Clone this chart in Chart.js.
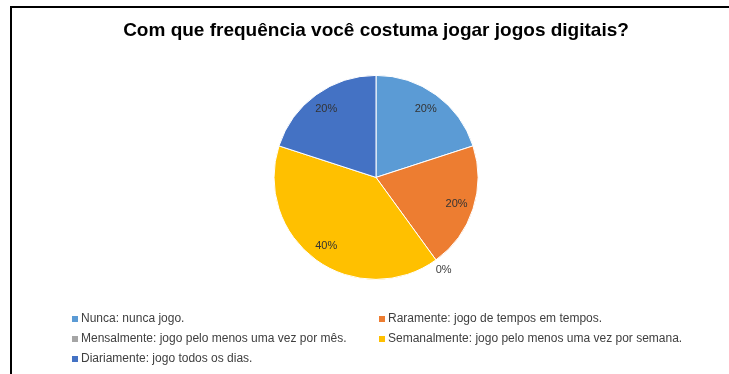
<!DOCTYPE html>
<html>
<head>
<meta charset="utf-8">
<script src="https://cdn.jsdelivr.net/npm/chart.js@4/dist/chart.umd.min.js"></script>
<style>
  html, body { margin: 0; padding: 0; background: #fff; }
  #wrap { width: 729px; height: 374px; }
</style>
</head>
<body>
<div id="wrap"><canvas id="graficoPizza" width="729" height="374"></canvas></div>
<script>
const titulo = 'Com que frequência você costuma jogar jogos digitais?';
const categorias = [
    'Nunca: nunca jogo.',
    'Raramente: jogo de tempos em tempos.',
    'Mensalmente: jogo pelo menos uma vez por mês.',
    'Semanalmente: jogo pelo menos uma vez por semana.',
    'Diariamente: jogo todos os dias.'
];
const percentuais = [20, 20, 0, 40, 20];
const cores = ['#5B9BD5', '#ED7D31', '#A5A5A5', '#FFC000', '#4472C4'];

// moldura (linha de cima e da esquerda do print)
const moldura = {
    id: 'moldura',
    beforeDraw(chart) {
        const ctx = chart.ctx;
        ctx.save();
        ctx.strokeStyle = '#000';
        ctx.lineWidth = 2;
        ctx.beginPath();
        ctx.moveTo(11, 374);
        ctx.lineTo(11, 7);
        ctx.lineTo(729, 7);
        ctx.stroke();
        ctx.restore();
    }
};

// rótulos de porcentagem
const rotulos = {
    id: 'rotulos',
    afterDatasetsDraw(chart) {
        const ctx = chart.ctx;
        const valores = chart.data.datasets[0].data;
        ctx.save();
        ctx.font = '11px "Liberation Sans", Arial, sans-serif';
        ctx.textAlign = 'center';
        ctx.textBaseline = 'middle';
        chart.getDatasetMeta(0).data.forEach((arc, i) => {
            const p = arc.getProps(['x', 'y', 'startAngle', 'endAngle', 'outerRadius'], true);
            const meio = (p.startAngle + p.endAngle) / 2;
            const r = valores[i] === 0 ? p.outerRadius + 13 : p.outerRadius * 0.83;
            ctx.fillStyle = valores[i] === 0 ? '#404040' : '#333';
            ctx.fillText(valores[i] + '%', p.x + Math.cos(meio) * r, p.y + Math.sin(meio) * r);
        });
        ctx.restore();
    }
};

// legenda em duas colunas
const legenda = {
    id: 'legenda',
    afterDraw(chart) {
        const ctx = chart.ctx;
        const colX = [72, 379];
        const linhaY = [319, 339, 359];
        ctx.save();
        ctx.font = '12px "Liberation Sans", Arial, sans-serif';
        ctx.textBaseline = 'middle';
        chart.data.labels.forEach((nome, i) => {
            const x = colX[i % 2];
            const y = linhaY[Math.floor(i / 2)];
            ctx.fillStyle = chart.data.datasets[0].backgroundColor[i];
            ctx.fillRect(x, y - 3, 6, 6);
            ctx.fillStyle = '#404040';
            ctx.fillText(nome, x + 9, y);
        });
        ctx.restore();
    }
};

const ctxPie = document.getElementById('graficoPizza').getContext('2d');
const chartPie = new Chart(ctxPie, {
    type: 'pie',
    data: {
        labels: categorias,
        datasets: [{
            data: percentuais,
            backgroundColor: cores,
            borderColor: '#ffffff',
            borderWidth: 1,
            radius: 102
        }]
    },
    options: {
        responsive: false,
        animation: false,
        layout: { padding: { left: 23, right: 0, top: 0, bottom: 94 } },
        plugins: {
            legend: { display: false },
            tooltip: { enabled: false },
            title: {
                display: true,
                text: titulo,
                color: '#000',
                font: { family: '"Liberation Sans", Arial, sans-serif', size: 19, weight: 'bold' },
                padding: { top: 19, bottom: 33 }
            }
        }
    },
    plugins: [moldura, rotulos, legenda]
});
</script>
</body>
</html>
